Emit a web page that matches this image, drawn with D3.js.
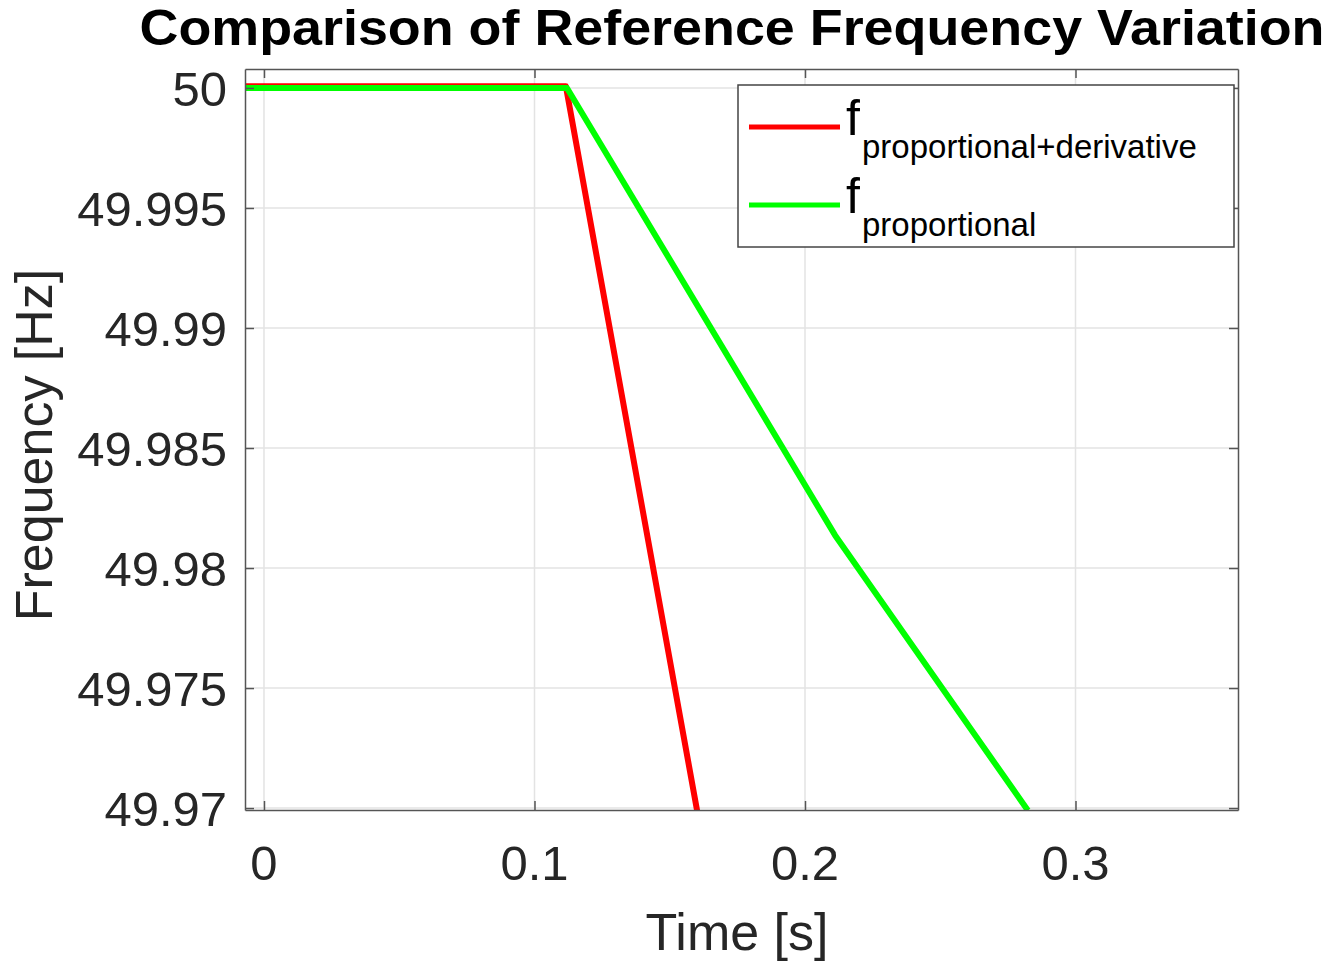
<!DOCTYPE html>
<html><head><meta charset="utf-8">
<script src="https://cdn.jsdelivr.net/npm/d3@7"></script>
<style>html,body{margin:0;padding:0;background:#fff;}svg{display:block;font-family:"Liberation Sans",Arial,Helvetica,sans-serif;}</style>
</head><body>
<script>
// ---- data ----
const title = "Comparison of Reference Frequency Variation";
const xLabel = "Time [s]";
const yLabel = "Frequency [Hz]";
const xTicks = [0, 0.1, 0.2, 0.3];
const xTickLabels = ["0", "0.1", "0.2", "0.3"];
const yTicks = [50, 49.995, 49.99, 49.985, 49.98, 49.975, 49.97];
const yTickLabels = ["50", "49.995", "49.99", "49.985", "49.98", "49.975", "49.97"];
const seriesNames = ["proportional+derivative", "proportional"];
const pdTime = [-0.007, 0.1116, 0.1601];
const pdFreq = [50.00007, 50.00007, 49.9699];
const pTime = [-0.007, 0.1120, 0.2111, 0.2824];
const pFreq = [50.0, 50.0, 49.98137, 49.9699];
const seriesColors = ["#ff0000", "#00ff00"];

// ---- layout ----
const W = 1330, H = 967;
const L = 245, R = 1238, T = 69, B = 810;
const svg = d3.select("body").append("svg").attr("width", W).attr("height", H);

const x = d3.scaleLinear().domain([-0.00702, 0.36007]).range([L, R]);
const y = d3.scaleLinear().domain([49.96992, 50.00079]).range([B, T]);

// grid
const grid = svg.append("g");
grid.selectAll(".gx").data(xTicks).join("line")
  .attr("x1", d => x(d)).attr("x2", d => x(d)).attr("y1", T).attr("y2", B)
  .attr("stroke", "#e3e3e3").attr("stroke-width", 1.5);
grid.selectAll(".gy").data(yTicks).join("line")
  .attr("y1", d => y(d)).attr("y2", d => y(d)).attr("x1", L).attr("x2", R)
  .attr("stroke", "#e3e3e3").attr("stroke-width", 1.5);

// lines
const clip = svg.append("clipPath").attr("id", "clip").append("rect")
  .attr("x", L).attr("y", T).attr("width", R - L).attr("height", B - T);
const line = d3.line().x(d => x(d[0])).y(d => y(d[1]));
const series = [d3.zip(pdTime, pdFreq), d3.zip(pTime, pFreq)];
svg.append("g").attr("clip-path", "url(#clip)").selectAll("path").data(series).join("path")
  .attr("d", line).attr("fill", "none")
  .attr("stroke", (d, i) => seriesColors[i]).attr("stroke-width", 6)
  .attr("stroke-linejoin", "round");

// axes box with inward ticks
const axColor = "#555";
const tickLen = 9;
svg.append("g").call(d3.axisBottom(x).tickValues(xTicks).tickFormat("").tickSizeInner(-tickLen).tickSizeOuter(0))
  .attr("transform", `translate(0,${B})`);
svg.append("g").call(d3.axisTop(x).tickValues(xTicks).tickFormat("").tickSizeInner(-tickLen).tickSizeOuter(0))
  .attr("transform", `translate(0,${T})`);
svg.append("g").call(d3.axisLeft(y).tickValues(yTicks).tickFormat("").tickSizeInner(-tickLen).tickSizeOuter(0))
  .attr("transform", `translate(${L},0)`);
svg.append("g").call(d3.axisRight(y).tickValues(yTicks).tickFormat("").tickSizeInner(-tickLen).tickSizeOuter(0))
  .attr("transform", `translate(${R},0)`);
svg.selectAll(".domain").attr("stroke", axColor).attr("stroke-width", 1.5);
svg.selectAll(".tick line").attr("stroke", axColor).attr("stroke-width", 1.5);

// tick labels
svg.append("g").selectAll("text").data(xTicks).join("text")
  .attr("x", d => x(d)).attr("y", 880).attr("text-anchor", "middle")
  .attr("font-size", 49).attr("fill", "#262626")
  .text((d, i) => xTickLabels[i]);
svg.append("g").selectAll("text").data(yTicks).join("text")
  .attr("x", 227).attr("y", d => y(d)).attr("dy", "0.36em").attr("text-anchor", "end")
  .attr("font-size", 49).attr("fill", "#262626")
  .text((d, i) => yTickLabels[i]);

// axis labels
svg.append("text").attr("x", 737).attr("y", 950).attr("text-anchor", "middle")
  .attr("font-size", 52).attr("fill", "#262626").text(xLabel);
svg.append("text").attr("transform", "translate(52,445) rotate(-90)").attr("text-anchor", "middle")
  .attr("font-size", 52).attr("fill", "#262626").text(yLabel);

// title
svg.append("text").attr("x", 732).attr("y", 45).attr("text-anchor", "middle")
  .attr("font-size", 50).attr("font-weight", "bold").attr("fill", "#000")
  .attr("textLength", 1185).attr("lengthAdjust", "spacingAndGlyphs").text(title);

// legend
const lg = svg.append("g");
lg.append("rect").attr("x", 738).attr("y", 85).attr("width", 496).attr("height", 162)
  .attr("fill", "#fff").attr("stroke", "#444").attr("stroke-width", 1.5);
const legY = [127, 205];
seriesNames.forEach((name, i) => {
  lg.append("line").attr("x1", 749).attr("x2", 840).attr("y1", legY[i]).attr("y2", legY[i])
    .attr("stroke", seriesColors[i]).attr("stroke-width", 5);
  const t = lg.append("text").attr("x", 846).attr("y", legY[i] + 8).attr("fill", "#000").attr("font-size", 50);
  t.append("tspan").text("f");
  t.append("tspan").attr("x", 862).attr("y", legY[i] + 31).attr("font-size", 33).text(name);
});
</script>
</body></html>
